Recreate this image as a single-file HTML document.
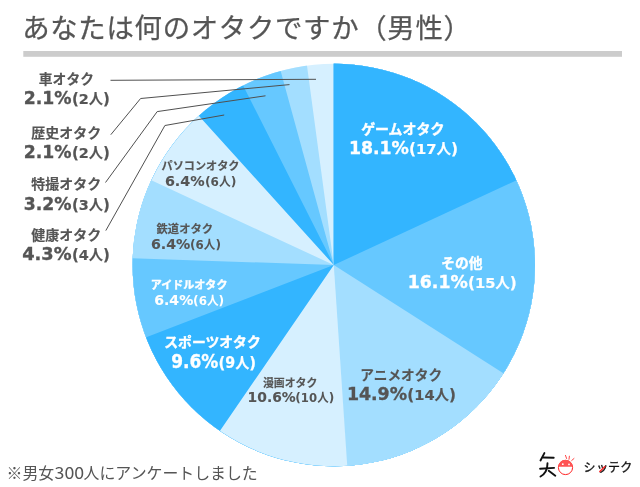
<!DOCTYPE html>
<html lang="ja"><head><meta charset="utf-8"><title>あなたは何のオタクですか（男性）</title>
<style>
html,body{margin:0;padding:0;background:#fff;}
svg{display:block;}
.jb{font-family:"Noto Sans CJK JP","Liberation Sans",sans-serif;font-weight:700;}
.db{font-family:"DejaVu Sans","Liberation Sans","Noto Sans CJK JP",sans-serif;font-weight:700;}
.cb{font-family:"DejaVu Sans","Liberation Sans","Noto Sans CJK JP",sans-serif;font-weight:700;}
.jr{font-family:"Noto Sans CJK JP","Liberation Sans",sans-serif;font-weight:400;}
</style></head><body>
<svg width="640" height="487" viewBox="0 0 640 487">
<rect width="640" height="487" fill="#fff"/>
<text x="22.2" y="37.75" font-size="27.4" letter-spacing="0.7" fill="#555" stroke="#555" stroke-width="0.25" class="jr">あなたは何のオタクですか（男性）</text>
<rect x="23.3" y="51" width="598.7" height="5.8" fill="#cccccc"/>
<defs><clipPath id="pc"><circle cx="333.8" cy="265.0" r="201.2"/></clipPath></defs>
<g clip-path="url(#pc)">
<rect x="124.60000000000002" y="55.80000000000001" width="418.4" height="418.4" fill="#D6F0FF"/>
<path d="M333.80 265.00L333.80 -69.72L389.18 -65.11L443.03 -51.40L493.86 -28.97L540.29 1.56L581.03 39.36L614.95 83.37L641.13 132.38L658.83 185.05L667.58 239.93L667.13 295.49L657.49 350.22L638.93 402.60L611.96 451.18L577.33 494.63L535.98 531.76L489.06 561.53L437.87 583.13L383.80 595.96L328.36 599.68L273.06 594.16L219.45 579.58L168.98 556.33L123.05 525.04L82.93 486.59L49.73 442.04L24.36 392.60L7.51 339.65L-0.34 284.64L1.01 229.09L11.54 174.53L30.95 122.46L58.70 74.32L94.04 31.44L135.98 -5.01L183.38 -34.02L234.92 -54.78L289.19 -66.73Z" fill="#A3DEFF"/>
<path d="M333.80 265.00L333.80 -69.72L389.47 -65.06L443.60 -51.20L494.66 -28.53L541.24 2.31L582.05 40.47L615.93 84.89L641.96 134.33L659.40 187.41L667.77 242.64L666.84 298.50L656.63 353.43L637.42 405.90L609.76 454.43L574.40 497.69L532.35 534.47L484.76 563.74L432.97 584.69L378.41 596.73L322.62 599.53L267.13 593.01L213.50 577.35L163.22 552.99L117.70 520.61L78.19 481.10L45.81 435.58L21.45 385.30L5.79 331.67L-0.73 276.18L2.07 220.39L14.11 165.83L35.06 114.04L64.33 66.45L101.11 24.40L144.37 -10.96L192.90 -38.62L245.37 -57.83Z" fill="#66C8FF"/>
<path d="M333.80 265.00L333.80 -69.72L389.16 -65.11L442.99 -51.41L493.82 -28.99L540.24 1.52L580.97 39.29L614.90 83.28L641.08 132.27L658.80 184.92L667.57 239.77L667.14 295.32L657.54 350.04L639.02 402.41L612.09 450.99L577.49 494.46L536.19 531.60L489.31 561.40L438.15 583.04L384.11 595.92L328.69 599.68L273.40 594.23L219.79 579.70L169.31 556.51L123.36 525.29L83.21 486.91L49.96 442.40L24.53 393.02L7.61 340.11L-0.31 285.12L0.96 229.59L11.40 175.03L30.72 122.95L58.39 74.78L93.64 31.85L135.51 -4.66L182.84 -33.74Z" fill="#33B5FF"/>
<path d="M333.80 265.00L333.80 -69.72L389.81 -65.00L444.24 -50.98L495.55 -28.04L542.31 3.15L583.18 41.73L617.02 86.61L642.88 136.52L660.02 190.05L667.96 245.69L666.48 301.88L655.62 357.02L635.69 409.57L607.24 458.05L571.08 501.08L528.23 537.46L479.90 566.15L427.45 586.35L372.36 597.49L316.18 599.26L260.50 591.60L206.88 574.73L156.85 549.12L111.80 515.51L73.01 474.83L41.58 428.23L18.39 377.04L4.09 322.68L-0.92 266.69L3.52 210.66L17.27 156.16L39.94 104.73L70.90 57.82L109.27 16.75Z" fill="#D6F0FF"/>
<path d="M333.80 265.00L333.80 -69.72L389.12 -65.12L442.91 -51.44L493.71 -29.05L540.11 1.42L580.83 39.14L614.76 83.07L640.97 132.01L658.72 184.60L667.54 239.40L667.18 294.91L657.65 349.60L639.22 401.96L612.38 450.55L577.89 494.04L536.68 531.23L489.89 561.10L438.81 582.82L384.84 595.81L329.47 599.69L274.22 594.37L220.60 580.00L170.10 556.96L124.10 525.89L83.87 487.65L50.51 443.28L24.94 394.01L7.87 341.19L-0.24 286.28L0.83 230.78L11.07 176.22L30.18 124.10Z" fill="#A3DEFF"/>
<path d="M333.80 265.00L333.80 -69.72L388.33 -65.25L441.41 -51.95L491.61 -30.19L537.59 -0.53L578.13 36.22L612.14 79.08L638.71 126.91L657.13 178.43L666.92 232.26L667.80 286.97L659.76 341.09L643.00 393.18L617.99 441.84L585.38 485.78L546.05 523.82L501.05 554.94L451.58 578.31L398.96 593.32L344.60 599.55L289.95 596.84L236.47 585.26L185.60 565.12L138.68 536.97L96.98 501.55L61.61 459.80L33.51 412.86L13.43 361.96L1.91 308.47L-0.73 253.82Z" fill="#66C8FF"/>
<path d="M333.80 265.00L333.80 -69.72L389.47 -65.06L443.60 -51.20L494.66 -28.53L541.24 2.31L582.05 40.47L615.93 84.89L641.96 134.33L659.40 187.41L667.77 242.64L666.84 298.50L656.63 353.43L637.42 405.90L609.76 454.43L574.40 497.69L532.35 534.47L484.76 563.74L432.97 584.69L378.41 596.73L322.62 599.53L267.13 593.01L213.50 577.35L163.22 552.99L117.70 520.61L78.19 481.10L45.81 435.58L21.45 385.30Z" fill="#33B5FF"/>
<path d="M333.80 265.00L333.80 -69.72L388.03 -65.30L440.84 -52.14L490.81 -30.61L536.63 -1.27L577.09 35.12L611.13 77.58L637.83 124.99L656.50 176.10L666.64 229.56L667.98 283.96L660.49 337.86L644.37 389.83L620.04 438.50L588.15 482.59L549.53 520.92L505.22 552.50L456.37 576.47L404.28 592.22L350.33 599.31L295.94 597.57L242.56 587.04L191.58 568.00L144.37 540.96Z" fill="#D6F0FF"/>
<path d="M333.80 265.00L333.80 -69.72L387.73 -65.35L440.25 -52.34L489.99 -31.04L535.65 -2.01L576.04 34.00L610.09 76.05L636.92 123.04L655.84 173.73L666.33 226.81L668.14 280.89L661.21 334.55L645.73 386.40L622.09 435.07L590.92 479.30L553.04 517.93L509.42 549.95L461.21 574.52L409.68 591.01L356.16 598.97Z" fill="#A3DEFF"/>
<path d="M333.80 265.00L333.80 -69.72L384.74 -65.82L434.49 -54.21L481.90 -35.17L525.86 -9.14L565.34 23.29L599.43 61.34L627.33 104.14L648.39 150.69L662.13 199.90L668.21 250.62L666.50 301.68L657.05 351.89L640.06 400.07L615.93 445.11Z" fill="#66C8FF"/>
<path d="M333.80 265.00L333.80 -69.72L381.18 -66.35L427.61 -56.30L472.15 -39.79L513.91 -17.13L552.03 11.20L585.76 44.65L614.42 82.54L637.42 124.10Z" fill="#33B5FF"/>
</g>
<g fill="none" stroke="#505050" stroke-width="1">
<polyline points="110.5,80.3 316,79.3"/>
<polyline points="110.8,134.7 140.6,98.5 289.5,84.6"/>
<polyline points="105.5,182.5 157.2,111.6 265.5,95.8"/>
<polyline points="105.8,230.6 164.9,125.5 224.2,115"/>
</g>
<g>
<text x="361.15" y="134.20" font-size="13.87" fill="#ffffff" class="jb" stroke="#ffffff" stroke-width="0.4" textLength="83.21" lengthAdjust="spacingAndGlyphs">ゲームオタク</text>
<text x="348.90" y="153.80" font-size="18.3" fill="#ffffff" stroke="#ffffff" stroke-width="0.35" class="db" textLength="60.00" lengthAdjust="spacingAndGlyphs">18.1%</text>
<text x="408.90" y="153.80" font-size="15.37" fill="#ffffff" stroke="#ffffff" stroke-width="0.2" class="cb" textLength="49.00" lengthAdjust="spacingAndGlyphs">(<tspan font-size="14.79">17</tspan><tspan font-size="14.50" class="jb">人</tspan>)</text>
<text x="441.25" y="268.20" font-size="13.73" fill="#ffffff" class="jb" stroke="#ffffff" stroke-width="0.4" textLength="41.20" lengthAdjust="spacingAndGlyphs">その他</text>
<text x="407.80" y="288.30" font-size="18.3" fill="#ffffff" stroke="#ffffff" stroke-width="0.35" class="db" textLength="60.00" lengthAdjust="spacingAndGlyphs">16.1%</text>
<text x="467.90" y="288.30" font-size="15.37" fill="#ffffff" stroke="#ffffff" stroke-width="0.2" class="cb" textLength="48.90" lengthAdjust="spacingAndGlyphs">(<tspan font-size="14.79">15</tspan><tspan font-size="14.50" class="jb">人</tspan>)</text>
<text x="360.25" y="380.30" font-size="13.67" fill="#555555" class="jb" stroke="#555555" stroke-width="0.15" textLength="81.99" lengthAdjust="spacingAndGlyphs">アニメオタク</text>
<text x="346.90" y="400.30" font-size="18.3" fill="#555555" stroke="#555555" stroke-width="0.35" class="db" textLength="60.20" lengthAdjust="spacingAndGlyphs">14.9%</text>
<text x="407.30" y="400.30" font-size="15.37" fill="#555555" stroke="#555555" stroke-width="0.2" class="cb" textLength="48.60" lengthAdjust="spacingAndGlyphs">(<tspan font-size="14.79">14</tspan><tspan font-size="14.50" class="jb">人</tspan>)</text>
<text x="262.97" y="387.30" font-size="10.87" fill="#555555" class="jb" stroke="#555555" stroke-width="0.15" textLength="54.37" lengthAdjust="spacingAndGlyphs">漫画オタク</text>
<text x="247.60" y="402.40" font-size="14" fill="#555555" stroke="#555555" stroke-width="0.12" class="db" textLength="48.10" lengthAdjust="spacingAndGlyphs">10.6%</text>
<text x="295.30" y="402.40" font-size="13.04" fill="#555555" stroke="#555555" stroke-width="0" class="cb" textLength="38.90" lengthAdjust="spacingAndGlyphs">(<tspan font-size="12.55">10</tspan><tspan font-size="12.30" class="jb">人</tspan>)</text>
<text x="164.25" y="347.10" font-size="13.79" fill="#ffffff" class="jb" stroke="#ffffff" stroke-width="0.4" textLength="96.50" lengthAdjust="spacingAndGlyphs">スポーツオタク</text>
<text x="171.20" y="367.60" font-size="19.0" fill="#ffffff" stroke="#ffffff" stroke-width="0.35" class="db" textLength="47.10" lengthAdjust="spacingAndGlyphs">9.6%</text>
<text x="218.50" y="367.60" font-size="15.69" fill="#ffffff" stroke="#ffffff" stroke-width="0.2" class="cb" textLength="37.50" lengthAdjust="spacingAndGlyphs">(<tspan font-size="15.10">9</tspan><tspan font-size="14.80" class="jb">人</tspan>)</text>
<text x="150.81" y="288.70" font-size="10.95" fill="#ffffff" class="jb" stroke="#ffffff" stroke-width="0.4" textLength="76.63" lengthAdjust="spacingAndGlyphs">アイドルオタク</text>
<text x="154.20" y="304.50" font-size="14.2" fill="#ffffff" stroke="#ffffff" stroke-width="0.12" class="db" textLength="39.10" lengthAdjust="spacingAndGlyphs">6.4%</text>
<text x="193.00" y="304.50" font-size="13.04" fill="#ffffff" stroke="#ffffff" stroke-width="0" class="cb" textLength="31.25" lengthAdjust="spacingAndGlyphs">(<tspan font-size="12.55">6</tspan><tspan font-size="12.30" class="jb">人</tspan>)</text>
<text x="156.55" y="233.40" font-size="11.30" fill="#555555" class="jb" stroke="#555555" stroke-width="0.15" textLength="56.50" lengthAdjust="spacingAndGlyphs">鉄道オタク</text>
<text x="150.90" y="249.20" font-size="14.2" fill="#555555" stroke="#555555" stroke-width="0.12" class="db" textLength="39.40" lengthAdjust="spacingAndGlyphs">6.4%</text>
<text x="190.00" y="249.20" font-size="13.04" fill="#555555" stroke="#555555" stroke-width="0" class="cb" textLength="31.00" lengthAdjust="spacingAndGlyphs">(<tspan font-size="12.55">6</tspan><tspan font-size="12.30" class="jb">人</tspan>)</text>
<text x="161.55" y="169.80" font-size="11.13" fill="#555555" class="jb" stroke="#555555" stroke-width="0.15" textLength="77.89" lengthAdjust="spacingAndGlyphs">パソコンオタク</text>
<text x="164.90" y="186.30" font-size="14.2" fill="#555555" stroke="#555555" stroke-width="0.12" class="db" textLength="39.80" lengthAdjust="spacingAndGlyphs">6.4%</text>
<text x="204.90" y="186.30" font-size="13.04" fill="#555555" stroke="#555555" stroke-width="0" class="cb" textLength="31.60" lengthAdjust="spacingAndGlyphs">(<tspan font-size="12.55">6</tspan><tspan font-size="12.30" class="jb">人</tspan>)</text>
<text x="31.24" y="240.00" font-size="13.98" fill="#555555" class="jb" stroke="#555555" stroke-width="0.15" textLength="69.92" lengthAdjust="spacingAndGlyphs">健康オタク</text>
<text x="22.20" y="260.30" font-size="18.3" fill="#555555" stroke="#555555" stroke-width="0.35" class="db" textLength="49.40" lengthAdjust="spacingAndGlyphs">4.3%</text>
<text x="71.90" y="260.30" font-size="15.37" fill="#555555" stroke="#555555" stroke-width="0.2" class="cb" textLength="37.90" lengthAdjust="spacingAndGlyphs">(<tspan font-size="14.79">4</tspan><tspan font-size="14.50" class="jb">人</tspan>)</text>
<text x="31.24" y="189.20" font-size="13.98" fill="#555555" class="jb" stroke="#555555" stroke-width="0.15" textLength="69.92" lengthAdjust="spacingAndGlyphs">特撮オタク</text>
<text x="23.80" y="209.60" font-size="18.3" fill="#555555" stroke="#555555" stroke-width="0.35" class="db" textLength="47.80" lengthAdjust="spacingAndGlyphs">3.2%</text>
<text x="71.90" y="209.60" font-size="15.37" fill="#555555" stroke="#555555" stroke-width="0.2" class="cb" textLength="37.90" lengthAdjust="spacingAndGlyphs">(<tspan font-size="14.79">3</tspan><tspan font-size="14.50" class="jb">人</tspan>)</text>
<text x="31.24" y="138.30" font-size="13.98" fill="#555555" class="jb" stroke="#555555" stroke-width="0.15" textLength="69.92" lengthAdjust="spacingAndGlyphs">歴史オタク</text>
<text x="23.80" y="158.20" font-size="18.3" fill="#555555" stroke="#555555" stroke-width="0.35" class="db" textLength="47.80" lengthAdjust="spacingAndGlyphs">2.1%</text>
<text x="71.90" y="158.20" font-size="15.37" fill="#555555" stroke="#555555" stroke-width="0.2" class="cb" textLength="37.90" lengthAdjust="spacingAndGlyphs">(<tspan font-size="14.79">2</tspan><tspan font-size="14.50" class="jb">人</tspan>)</text>
<text x="38.85" y="84.30" font-size="13.78" fill="#555555" class="jb" stroke="#555555" stroke-width="0.15" textLength="55.10" lengthAdjust="spacingAndGlyphs">車オタク</text>
<text x="23.80" y="104.10" font-size="18.3" fill="#555555" stroke="#555555" stroke-width="0.35" class="db" textLength="47.80" lengthAdjust="spacingAndGlyphs">2.1%</text>
<text x="71.90" y="104.10" font-size="15.37" fill="#555555" stroke="#555555" stroke-width="0.2" class="cb" textLength="37.90" lengthAdjust="spacingAndGlyphs">(<tspan font-size="14.79">2</tspan><tspan font-size="14.50" class="jb">人</tspan>)</text>
</g>
<text y="479.3" font-size="15.9" fill="#555" class="jr"><tspan x="6.6">※男女</tspan><tspan x="54.6" textLength="29.6" lengthAdjust="spacingAndGlyphs">300</tspan><tspan x="83.6">人にアンケートしました</tspan></text>
<g fill="none" stroke="#111" stroke-width="1.9" stroke-linecap="round" stroke-linejoin="round">
<path d="M544.4 453.1L540.5 460.5"/>
<path d="M543.2 457.5L553.7 457.8"/>
<path d="M540.1 468.7L554.1 467.9"/>
<path d="M547.5 463.2C547.5 469 545 474 540.5 476.5"/>
<path d="M548.7 470.7L555.3 475.7"/>
</g>
<g>
<circle cx="565.5" cy="467.5" r="7.1" fill="#fff" stroke="#f22" stroke-width="1"/>
<path d="M558.4 466.8A7.1 7.1 0 0 1 572.6 466.8Z" fill="#f55"/>
<circle cx="562.8" cy="464.2" r="0.9" fill="#fff"/>
<circle cx="569" cy="464.4" r="0.9" fill="#fff"/>
<g stroke="#f44" stroke-width="1" stroke-linecap="round">
<path d="M565.5 455.4L566.6 458.5"/><path d="M569.4 456.2L569 459.3"/><path d="M574 458.5L571.7 460.5"/>
</g>
</g>
<text x="583.4 596.3 607.9 620.3" y="471.9" font-size="12" fill="#111" stroke="#111" stroke-width="0.35" class="jr">シッテク</text>
<path d="M599.8 471.6L604.9 466.6" stroke="#f22" stroke-width="1.4" stroke-linecap="round" fill="none"/>
</svg>
</body></html>
